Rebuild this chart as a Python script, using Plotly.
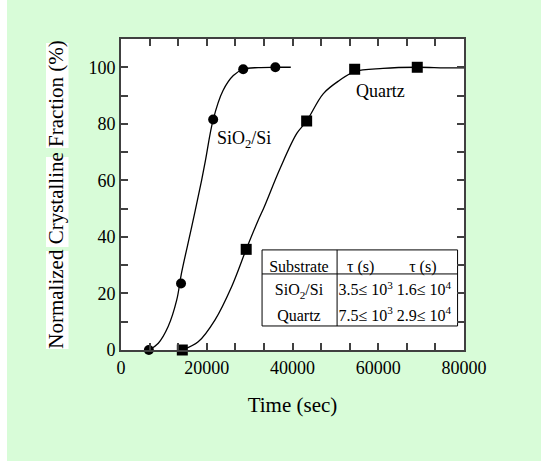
import plotly.graph_objects as go

# ---- data ----
sio2_t = [6500, 14000, 21500, 28500, 36000]
sio2_f = [0, 23.5, 81.5, 99.3, 100]

quartz_t = [14300, 29200, 43300, 54500, 69100]
quartz_f = [0, 35.6, 81.0, 99.3, 100]

# fitted curves
sio2_curve_t = [6500, 8700, 11000, 13000, 14100, 16500, 18800, 19700, 21500, 23800, 26200, 28500, 32000, 36000, 39600]
sio2_curve_f = [0, 2.4, 8.3, 17.7, 27.1, 43.6, 60.0, 67.1, 81.5, 91.8, 97.1, 99.3, 99.9, 100, 100]

quartz_curve_t = [14300, 18000, 21900, 25800, 29200, 32000, 33400, 37100, 41000, 43300, 47200, 51000, 54500, 61100, 69100, 75500, 80000]
quartz_curve_f = [0, 2.9, 10.6, 22.4, 35.6, 45.9, 50.6, 64.2, 76.6, 81.0, 90.7, 95.4, 98.5, 99.6, 100, 99.8, 99.8]

x_range = [0, 80000]
y_range = [0, 110]

table_header = ["Substrate", "τ (s)", "τ (s)"]
table_names = ["SiO<sub>2</sub>/Si", "Quartz"]
table_values = ["3.5≤ 10<sup>3</sup> 1.6≤ 10<sup>4</sup>", "7.5≤ 10<sup>3</sup> 2.9≤ 10<sup>4</sup>"]
curve_labels = ["SiO<sub>2</sub>/Si", "Quartz"]

FONT = "Liberation Serif, Times New Roman, serif"
GREEN = "rgb(216,252,216)"
AXC = "#404040"

fig = go.Figure()
fig.add_trace(go.Scatter(x=sio2_curve_t, y=sio2_curve_f, mode="lines", line=dict(color="black", width=1.3, shape="spline"),
                         hoverinfo="skip", cliponaxis=False))
fig.add_trace(go.Scatter(x=quartz_curve_t, y=quartz_curve_f, mode="lines", line=dict(color="black", width=1.3, shape="spline"),
                         hoverinfo="skip", cliponaxis=False))
fig.add_trace(go.Scatter(x=sio2_t, y=sio2_f, mode="markers", marker=dict(symbol="circle", size=10, color="black"),
                         cliponaxis=False))
fig.add_trace(go.Scatter(x=quartz_t, y=quartz_f, mode="markers", marker=dict(symbol="square", size=11, color="black"),
                         cliponaxis=False))

# table box
tx0, tx1, tv = 32900, 78500, 50400
ty0, ty1, th = 8.5, 35.4, 26.9
shapes = [
    dict(type="rect", x0=tx0, x1=tx1, y0=ty0, y1=ty1, line=dict(color="black", width=1), fillcolor="white", layer="below"),
    dict(type="line", x0=tx0, x1=tx1, y0=th, y1=th, line=dict(color="black", width=1), layer="below"),
    dict(type="line", x0=tv, x1=tv, y0=ty0, y1=ty1, line=dict(color="black", width=1), layer="below"),
    # white strip at the left edge of the page
    dict(type="rect", xref="paper", yref="paper", x0=-121/343, x1=-114/343, y0=-111/311, y1=1 + 39/311,
         line=dict(width=0), fillcolor="white", layer="above"),
]
# white boxes behind each word of the y-axis title
for top, bot in [(43, 148), (157, 247), (251, 349)]:
    shapes.append(dict(type="rect", xref="paper", yref="paper", x0=(46 - 121) / 343, x1=(68.5 - 121) / 343,
                       y0=(350 - bot) / 311, y1=(350 - top) / 311, line=dict(width=0), fillcolor="white", layer="above"))

tf = dict(family=FONT, size=16, color="black")
# table texts
fig.add_trace(go.Scatter(x=[41500, 55900, 70400], y=[28.9, 28.9, 28.9], mode="text", text=table_header,
                         textposition="middle center", textfont=tf, hoverinfo="skip", cliponaxis=False))
fig.add_trace(go.Scatter(x=[41500, 41500], y=[20.7, 11.8], mode="text", text=table_names,
                         textposition="middle center", textfont=tf, hoverinfo="skip", cliponaxis=False))
fig.add_trace(go.Scatter(x=[50700, 50700], y=[20.7, 11.8], mode="text", text=table_values,
                         textposition="middle right", textfont=tf, hoverinfo="skip", cliponaxis=False))
# curve labels
fig.add_trace(go.Scatter(x=[28700, 60500], y=[74.5, 91.0], mode="text", text=curve_labels,
                         textposition="middle center", textfont=dict(family=FONT, size=18, color="black"),
                         hoverinfo="skip", cliponaxis=False))

axis_common = dict(showline=True, linecolor=AXC, linewidth=2, mirror="allticks", ticks="inside",
                   ticklen=7, tickwidth=1.5, tickcolor=AXC, showgrid=False, zeroline=False,
                   tickfont=dict(family=FONT, size=18, color="black"), tickformat="d")

fig.update_xaxes(range=x_range, tick0=0, dtick=20000,
                 minor=dict(dtick=20000 / 3, tick0=0, ticks="inside", ticklen=7, tickwidth=1.5, tickcolor=AXC, showgrid=False),
                 title=dict(text="Time (sec)", font=dict(family=FONT, size=21, color="black"), standoff=21),
                 **axis_common)
fig.update_yaxes(range=y_range, tick0=0, dtick=20,
                 minor=dict(dtick=10, tick0=0, ticks="inside", ticklen=7, tickwidth=1.5, tickcolor=AXC, showgrid=False),
                 title=dict(text="Normalized Crystalline Fraction (%)", font=dict(family=FONT, size=21, color="black"),
                            standoff=19),
                 **axis_common)

fig.update_layout(shapes=shapes, width=541, height=461,
                  margin=dict(l=121, r=77, t=39, b=111, autoexpand=False),
                  paper_bgcolor=GREEN, plot_bgcolor="white", showlegend=False,
                  font=dict(family=FONT, color="black"))

fig.write_html("out.html", config={"displayModeBar": False},
               post_script="document.body.style.margin='0';")
